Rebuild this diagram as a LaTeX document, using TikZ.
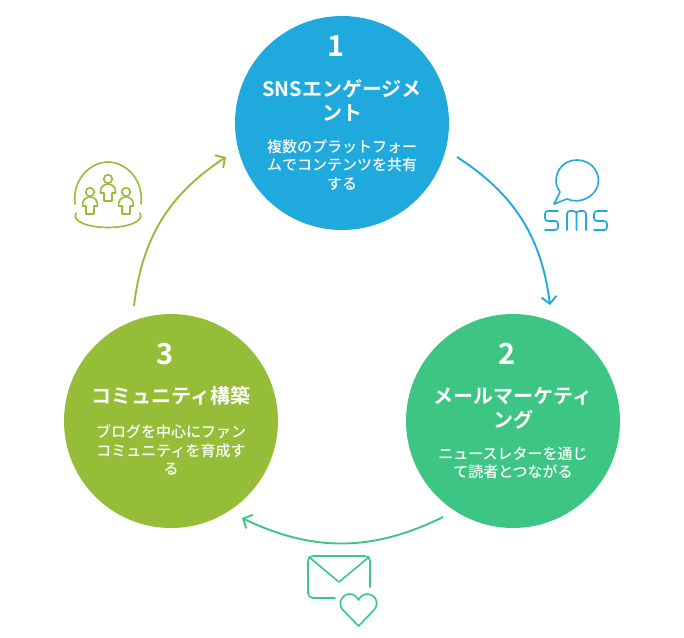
\documentclass[tikz,border=0pt]{standalone}
\usepackage{fontspec}
\setmainfont{Noto Sans CJK JP}[BoldFont={Noto Sans CJK JP Bold}]
\newfontfamily\medfont{Noto Sans CJK JP Medium}
\usetikzlibrary{arrows.meta}
\definecolor{cblue}{HTML}{1FA9DC}
\definecolor{cgreen}{HTML}{3DC584}
\definecolor{colive}{HTML}{95BD37}
\tikzset{
  disc/.style={circle,minimum size=214pt,inner sep=0pt,fill=#1},
  num/.style={text=white,font=\fontsize{29}{30}\selectfont\bfseries,inner sep=0pt},
  ttl/.style={text=white,font=\fontsize{20}{24}\selectfont\bfseries,align=center,inner sep=0pt},
  dsc/.style={text=white,font=\medfont\fontsize{15}{18.5}\selectfont,align=center,inner sep=0pt},
  link/.style={draw=#1,line width=1.9pt,-{Straight Barb[length=7pt,width=15pt,line width=1.9pt]}},
  icon/.style={draw=#1,line width=1.6pt,line cap=round,line join=round},
}
\begin{document}
\begin{tikzpicture}[x=1pt,y=-1pt]
\useasboundingbox (0,0) rectangle (684,637);
\node[disc=cblue] (top) at (342,123) {};
\node[disc=cgreen] (right) at (513,421) {};
\node[disc=colive] (left) at (171,421) {};

\node[num] (n1) at (336,46) {1};
\node[ttl] (t1) at (342,100) {SNSエンゲージメ\\ント};
\node[dsc] (d1) at (342,165) {複数のプラットフォー\\ムでコンテンツを共有\\する};

\node[num] (n2) at (507,354) {2};
\node[ttl] (t2) at (513,408) {メールマーケティ\\ング};
\node[dsc] (d2) at (513,463) {ニュースレターを通じ\\て読者とつながる};

\node[num] (n3) at (165,354) {3};
\node[ttl] (t3) at (171,396) {コミュニティ構築};
\node[dsc] (d3) at (171,450) {ブログを中心にファン\\コミュニティを育成す\\る};

\coordinate (a1) at (457,157);
\coordinate (b1) at (550,305);
\coordinate (a2) at (443,517);
\coordinate (b2) at (242,518);
\coordinate (a3) at (134,306);
\coordinate (b3) at (226,157);
\draw[link=cblue] (a1) to[bend left=25] (b1);
\draw[link=cgreen] (a2) to[bend left=26] (b2);
\draw[link=colive] (a3) to[bend left=25] (b3);

% SMS icon
\draw[icon=cblue] (560,192) -- (554,204) -- (567,199)
  .. controls (580,205) and (598,196) .. (598.5,181)
  .. controls (598.5,169) and (589,160) .. (577,160)
  .. controls (565,160) and (556,169) .. (556,181)
  .. controls (556,185) and (558,189) .. (560,192) -- cycle;
\draw[icon=cblue] (558,211) -- (548,211) .. controls (546,211) and (545,212) .. (545,214) -- (545,218) .. controls (545,220) and (546,221) .. (548,221) -- (555,221) .. controls (557,221) and (558,222) .. (558,224) -- (558,227) .. controls (558,229) and (557,230) .. (555,230) -- (545,230);
\draw[icon=cblue] (567,230) -- (567,214) .. controls (567,212) and (568,211) .. (570,211) -- (573,211) .. controls (575,211) and (576.5,212) .. (576.5,214) -- (576.5,230) (576.5,214) .. controls (576.5,212) and (578,211) .. (580,211) -- (583,211) .. controls (585,211) and (586,212) .. (586,214) -- (586,230);
\draw[icon=cblue] (607,211) -- (597,211) .. controls (595,211) and (594,212) .. (594,214) -- (594,218) .. controls (594,220) and (595,221) .. (597,221) -- (604,221) .. controls (606,221) and (607,222) .. (607,224) -- (607,227) .. controls (607,229) and (606,230) .. (604,230) -- (594,230);

% community icon
\draw[icon=colive] (75,204) .. controls (72,180) and (90,162) .. (108,162) .. controls (126,162) and (144,180) .. (141,204);
\draw[icon=colive] (76,213) .. controls (71,222) and (90,227.5) .. (108,227.5) .. controls (126,227.5) and (145,222) .. (140,213);
\foreach \px/\py in {108/179,90/192,126/192}{
  \draw[icon=colive] (\px,\py) circle[radius=4.3];
  \draw[icon=colive] (\px-4,\py+22) -- (\px+4,\py+22) -- (\px+4,\py+14) -- (\px+7.5,\py+14)
    .. controls (\px+8,\py+9) and (\px+5,\py+5) .. (\px,\py+5)
    .. controls (\px-5,\py+5) and (\px-8,\py+9) .. (\px-7.5,\py+14) -- (\px-4,\py+14) -- cycle;
}

% mail icon
\draw[icon=cgreen] (335,598) -- (313,598) .. controls (310,598) and (308,596) .. (308,593) -- (308,561) .. controls (308,558) and (310,556) .. (313,556) -- (365,556) .. controls (368,556) and (370,558) .. (370,561) -- (370,587);
\draw[icon=cgreen] (309,557) -- (339,582) -- (369,557);
\draw[icon=cgreen] (358.5,626) -- (343,610) .. controls (337,603) and (342,594) .. (350,594) .. controls (354,594) and (357,597) .. (358.5,600) .. controls (360,597) and (363,594) .. (367,594) .. controls (375,594) and (380,603) .. (374,610) -- cycle;
\end{tikzpicture}
\end{document}
